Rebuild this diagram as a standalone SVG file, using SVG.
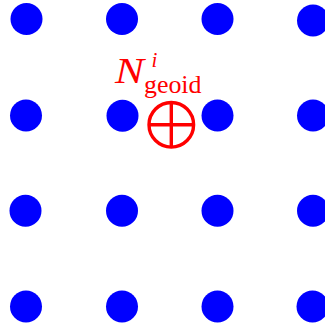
<svg xmlns="http://www.w3.org/2000/svg" width="325" height="331" viewBox="0 0 325 331">
<style>
.dot{fill:#0000ff}
.lbl{fill:#ff0000;font-family:"Liberation Serif","DejaVu Serif",serif}
.mk{fill:none;stroke:#ff0000;stroke-width:3.4}
</style>
<rect width="325" height="331" fill="#ffffff"/>
<g id="grid">
<circle class="dot" cx="26.5" cy="19" r="16"/>
<circle class="dot" cx="122" cy="19" r="16"/>
<circle class="dot" cx="217.5" cy="19" r="16"/>
<circle class="dot" cx="313" cy="20.5" r="16"/>
<circle class="dot" cx="26" cy="115.5" r="16"/>
<circle class="dot" cx="122.5" cy="115.8" r="16"/>
<circle class="dot" cx="217.5" cy="115.5" r="16"/>
<circle class="dot" cx="313" cy="115.5" r="16"/>
<circle class="dot" cx="25.5" cy="210.8" r="16"/>
<circle class="dot" cx="122" cy="210.8" r="16"/>
<circle class="dot" cx="217.5" cy="210.8" r="16"/>
<circle class="dot" cx="313" cy="210.8" r="16"/>
<circle class="dot" cx="26" cy="306.5" r="16"/>
<circle class="dot" cx="122" cy="306.5" r="16"/>
<circle class="dot" cx="217.5" cy="306.5" r="16"/>
<circle class="dot" cx="312.5" cy="306.5" r="16"/>
</g>
<g id="geoid">
<circle class="mk" cx="171.3" cy="124.8" r="22.3"/>
<line class="mk" x1="149" y1="124.8" x2="193.6" y2="124.8"/>
<line class="mk" x1="171.3" y1="102.5" x2="171.3" y2="147.1"/>
<text class="lbl" x="115" y="83.3" font-size="35" font-style="italic" textLength="29" lengthAdjust="spacingAndGlyphs">N</text>
<text class="lbl" x="151.5" y="66.5" font-size="21" font-style="italic">i</text>
<text class="lbl" x="144" y="93" font-size="25" textLength="57.5" lengthAdjust="spacingAndGlyphs">geoid</text>
</g>
</svg>
